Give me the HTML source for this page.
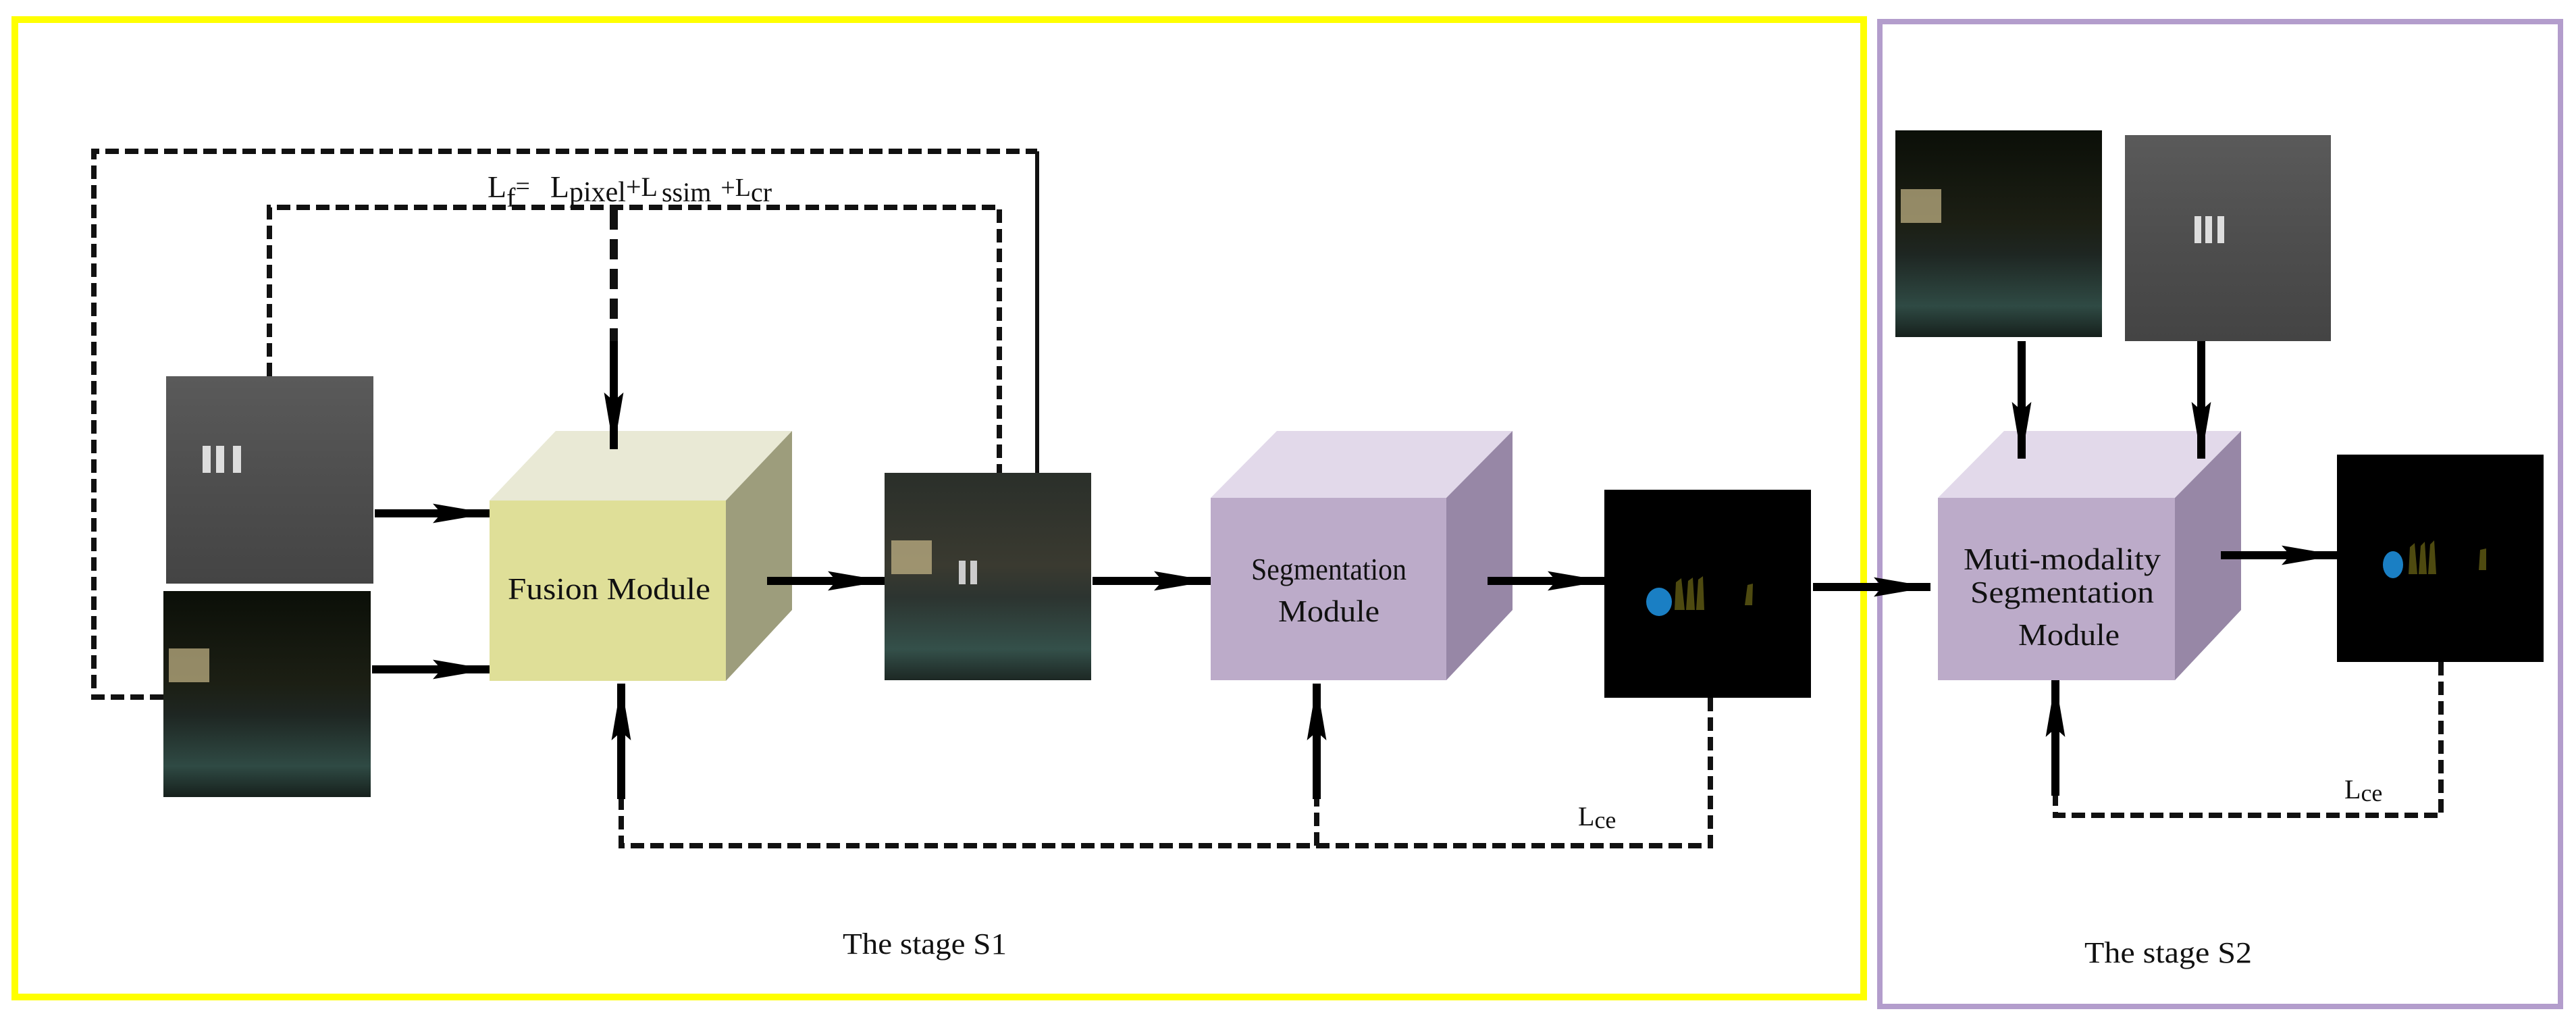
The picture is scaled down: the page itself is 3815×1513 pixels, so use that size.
<!DOCTYPE html>
<html><head><meta charset="utf-8"><style>
html,body{margin:0;padding:0;background:#fff;}
svg{display:block;}
text{font-family:"Liberation Serif",serif;fill:#111;}
</style></head><body>
<svg width="3815" height="1513" viewBox="0 0 3815 1513" xmlns="http://www.w3.org/2000/svg">
<defs>
<linearGradient id="vis" x1="0" y1="0" x2="0" y2="1">
<stop offset="0" stop-color="#0b0f08"/><stop offset="0.45" stop-color="#1c1f14"/><stop offset="0.6" stop-color="#1e2622"/><stop offset="0.85" stop-color="#2f4a44"/><stop offset="1" stop-color="#16201c"/>
</linearGradient>
<linearGradient id="thr" x1="0" y1="0" x2="0" y2="1">
<stop offset="0" stop-color="#5a5a5a"/><stop offset="0.5" stop-color="#4e4e4e"/><stop offset="1" stop-color="#444"/>
</linearGradient>
<linearGradient id="fus" x1="0" y1="0" x2="0" y2="1">
<stop offset="0" stop-color="#2a2f2a"/><stop offset="0.45" stop-color="#3a3a30"/><stop offset="0.6" stop-color="#2c3430"/><stop offset="0.85" stop-color="#34504a"/><stop offset="1" stop-color="#1d2824"/>
</linearGradient>
<marker id="ah" viewBox="0 0 10 10" refX="10" refY="5" markerWidth="7" markerHeight="2.4" markerUnits="strokeWidth" orient="auto" preserveAspectRatio="none"><path d="M0,0 L10,5 L0,10 L1.5,5 Z" fill="#000"/></marker>
</defs>

<rect x="22" y="29" width="2738" height="1447" fill="none" stroke="#ffff00" stroke-width="10"/>
<rect x="2784" y="32" width="1008" height="1458" fill="none" stroke="#b39dcc" stroke-width="8"/>

<rect x="246" y="557" width="307" height="307" fill="url(#thr)"/>
<rect x="300" y="660" width="12" height="40" fill="#ddd"/><rect x="320" y="660" width="12" height="40" fill="#ddd"/><rect x="345" y="660" width="12" height="40" fill="#ddd"/>
<rect x="242" y="875" width="307" height="305" fill="url(#vis)"/>
<rect x="250" y="960" width="60" height="50" fill="#c9b98a" opacity="0.7"/>
<rect x="1310" y="700" width="306" height="307" fill="url(#fus)"/>
<rect x="1320" y="800" width="60" height="50" fill="#c9b98a" opacity="0.7"/>
<rect x="1420" y="830" width="10" height="35" fill="#ccc"/><rect x="1437" y="830" width="10" height="35" fill="#ccc"/>

<polygon points="725,741 823,638 1173,638 1075,741" fill="#e9e9d5"/>
<polygon points="1075,741 1173,638 1173,903 1075,1008" fill="#9d9d7c"/>
<rect x="725" y="741" width="350" height="267" fill="#dfdf98"/>
<text x="902" y="887" font-size="46" text-anchor="middle" textLength="300" lengthAdjust="spacingAndGlyphs">Fusion Module</text>

<polygon points="1793,737 1891,638 2240,638 2142,737" fill="#e2d9ea"/>
<polygon points="2142,737 2240,638 2240,903 2142,1007" fill="#9787a6"/>
<rect x="1793" y="737" width="349" height="270" fill="#bcabc9"/>
<text x="1968" y="858" font-size="46" text-anchor="middle" textLength="230" lengthAdjust="spacingAndGlyphs">Segmentation</text>
<text x="1968" y="920" font-size="46" text-anchor="middle" textLength="150" lengthAdjust="spacingAndGlyphs">Module</text>

<rect x="2376" y="725" width="306" height="308" fill="#000"/>
<ellipse cx="2457" cy="891" rx="19" ry="21" fill="#1a7fc4"/>
<path d="M2480,903 L2482,862 L2490,856 L2495,903 Z M2497,903 L2500,860 L2507,855 L2510,903 Z M2512,903 L2515,858 L2522,853 L2524,903 Z M2584,896 L2588,866 L2596,864 L2595,896 Z" fill="#4e4a10"/>

<rect x="2807" y="193" width="306" height="306" fill="url(#vis)"/>
<rect x="2815" y="280" width="60" height="50" fill="#c9b98a" opacity="0.7"/>
<rect x="3147" y="200" width="305" height="305" fill="url(#thr)"/>
<rect x="3250" y="320" width="10" height="40" fill="#ddd"/><rect x="3266" y="320" width="10" height="40" fill="#ddd"/><rect x="3284" y="320" width="10" height="40" fill="#ddd"/>

<polygon points="2870,737 2968,638 3319,638 3221,737" fill="#e2d9ea"/>
<polygon points="3221,737 3319,638 3319,903 3221,1007" fill="#9787a6"/>
<rect x="2870" y="737" width="351" height="270" fill="#bcabc9"/>
<text x="3054" y="843" font-size="46" text-anchor="middle" textLength="292" lengthAdjust="spacingAndGlyphs">Muti-modality</text>
<text x="3054" y="892" font-size="46" text-anchor="middle" textLength="272" lengthAdjust="spacingAndGlyphs">Segmentation</text>
<text x="3064" y="955" font-size="46" text-anchor="middle" textLength="150" lengthAdjust="spacingAndGlyphs">Module</text>

<rect x="3461" y="673" width="306" height="307" fill="#000"/>
<ellipse cx="3544" cy="836" rx="15" ry="20" fill="#1a7fc4"/>
<path d="M3567,850 L3569,810 L3576,804 L3580,850 Z M3582,850 L3585,808 L3591,802 L3594,850 Z M3596,850 L3599,806 L3605,800 L3608,850 Z M3671,844 L3673,814 L3682,812 L3682,844 Z" fill="#4e4a10"/>

<g stroke="#000" stroke-width="12" fill="none" marker-end="url(#ah)">
<line x1="555" y1="760" x2="725" y2="760"/>
<line x1="551" y1="991" x2="725" y2="991"/>
<line x1="1136" y1="860" x2="1310" y2="860"/>
<line x1="1618" y1="860" x2="1793" y2="860"/>
<line x1="2203" y1="860" x2="2376" y2="860"/>
<line x1="2685" y1="869" x2="2859" y2="869"/>
<line x1="3289" y1="822" x2="3463" y2="822"/>
<line x1="2994" y1="505" x2="2994" y2="679"/>
<line x1="3260" y1="505" x2="3260" y2="679"/>
<line x1="920" y1="1183" x2="920" y2="1012"/>
<line x1="1950" y1="1183" x2="1950" y2="1012"/>
<line x1="3044" y1="1178" x2="3044" y2="1007"/>
<line x1="909" y1="500" x2="909" y2="665"/>
</g>

<g stroke="#111" stroke-width="8" fill="none" stroke-dasharray="20 9">
<polyline points="242,1032 139,1032 139,224 1536,224"/>
<polyline points="399,557 399,307 1480,307 1480,700"/>
<polyline points="2533,1033 2533,1252 920,1252 920,1183"/>
<line x1="1950" y1="1252" x2="1950" y2="1183"/>
<polyline points="3615,980 3615,1207 3044,1207 3044,1178"/>
</g>
<line x1="1536" y1="224" x2="1536" y2="700" stroke="#111" stroke-width="6"/>
<line x1="909" y1="310" x2="909" y2="505" stroke="#111" stroke-width="12" stroke-dasharray="30 14"/>

<text x="722" y="292" font-size="46">L<tspan font-size="40" dy="14">f</tspan><tspan font-size="38" dy="-18">=</tspan><tspan dx="30" font-size="46" dy="4">L</tspan><tspan font-size="42" dy="6">pixel</tspan><tspan font-size="40" dy="-8">+L</tspan><tspan font-size="40" dx="6" dy="8">ssim</tspan><tspan font-size="38" dx="14" dy="-8">+L</tspan><tspan font-size="40" dy="8">cr</tspan></text>

<text x="2337" y="1222" font-size="40">L<tspan font-size="36" dy="4">ce</tspan></text>
<text x="3472" y="1182" font-size="40">L<tspan font-size="36" dy="4">ce</tspan></text>

<text x="1248" y="1412" font-size="44" textLength="243" lengthAdjust="spacingAndGlyphs">The stage S1</text>
<text x="3087" y="1425" font-size="44" textLength="248" lengthAdjust="spacingAndGlyphs">The stage S2</text>
</svg>
</body></html>
